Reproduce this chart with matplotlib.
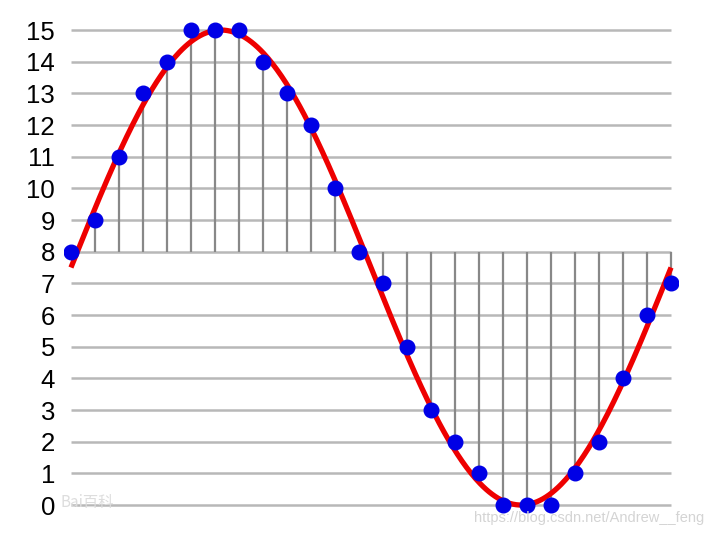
import numpy as np
import matplotlib.pyplot as plt

# 4-bit quantised samples of the analog signal
samples = [8, 9, 11, 13, 14, 15, 15, 15, 14, 13, 12, 10, 8, 7,
           5, 3, 2, 1, 0, 0, 0, 1, 2, 4, 6, 7]
levels = list(range(16))
baseline = 8

# analog signal (red): offset + amp * sin(2*pi*t/period)
offset = 7.5
amp = 7.5
period = 25.0

n = np.arange(len(samples))
t = np.linspace(0, period, 400)
analog = offset + amp * np.sin(2 * np.pi * t / period)

fig = plt.figure(figsize=(7.11, 5.36), dpi=100)
ax = fig.add_axes([64 / 711, 1 - 518 / 536, 614 / 711, 500 / 536])

ax.hlines(levels, 0, n[-1], colors='#b8b8b8', linewidth=1.8, zorder=1)
ax.vlines(n, baseline, samples, colors='#888888', linewidth=1.6, zorder=2)
ax.plot(t, analog, color='#ee0000', linewidth=3.8, solid_capstyle='butt', zorder=3)
ax.plot(n, samples, 'o', color='#0000e6', markersize=10.5, zorder=4)

ax.set_xlim(-0.29, 25.29)
ax.set_ylim(-0.41, 15.38)
ax.set_yticks(levels)
ax.set_yticklabels([str(v) for v in levels], fontsize=18.5, family='Liberation Sans')
ax.tick_params(axis='y', length=0, pad=6.5)
ax.set_xticks([])
for s in ax.spines.values():
    s.set_visible(False)

# watermarks
fig.text(60 / 711, 1 - 503 / 536, 'Bai百科', fontsize=11, color='#dddddd',
         family=['Noto Sans CJK SC', 'DejaVu Sans'], va='center')
fig.text(704 / 711, 1 - 518 / 536, 'https://blog.csdn.net/Andrew__feng', fontsize=10.5,
         color='#d4d4d4', family='Liberation Sans', ha='right', va='center')

fig.savefig('out.png', dpi=100)
